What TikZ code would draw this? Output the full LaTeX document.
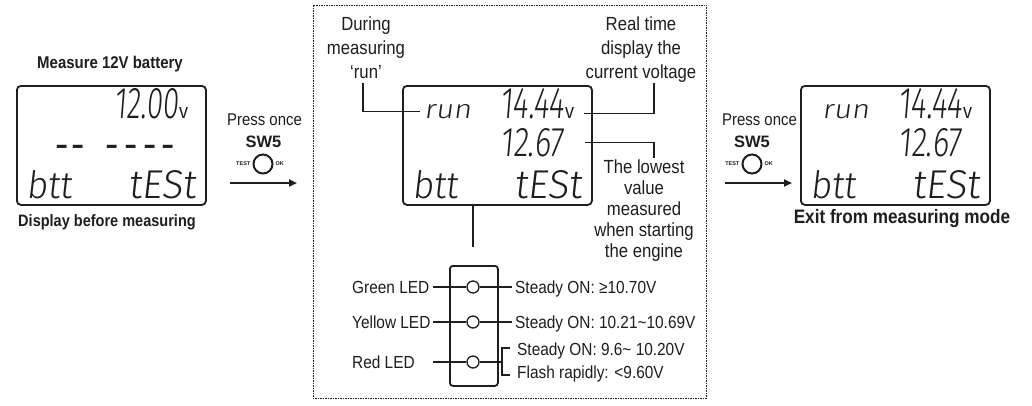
\documentclass[tikz,border=0pt]{standalone}
\usepackage{fontspec}
\usepackage{graphicx}
\setmainfont[FakeStretch=0.88]{Liberation Sans}
\newfontfamily\plainsans{Liberation Sans}
\newfontfamily\lcdf[FakeSlant=0.12]{Fira Sans Light}
\usetikzlibrary{arrows.meta}
\definecolor{ink}{HTML}{1E1E1E}
\newcommand\lcdtxt[3]{\resizebox{#1pt}{#2pt}{\lcdf #3}}
\newcommand\lcdv{\resizebox{9pt}{11pt}{\plainsans v}}
\begin{document}
\begin{tikzpicture}[x=1pt,y=-1pt,color=ink,
  lcdbox/.style={draw, line width=1.8pt, rounded corners=4pt, inner sep=0, minimum width=189pt, minimum height=119pt, anchor=north west},
  seg/.style={inner sep=0, anchor=south west},
  conn/.style={line width=1.3pt},
  ann/.style={font=\fontsize{19}{24}\selectfont, align=center, inner sep=0, anchor=north},
  ledl/.style={font=\fontsize{17.5}{20}\selectfont, inner sep=0, anchor=base west},
  led/.style={draw, circle, line width=1.3pt, minimum size=12pt, inner sep=0},
  btn/.style={draw, circle, line width=2pt, minimum size=19pt, inner sep=0},
  tinyl/.style={font=\plainsans\bfseries\fontsize{5.5}{6}\selectfont, inner sep=0},
  presslbl/.style={font=\fontsize{17}{20}\selectfont, inner sep=0, anchor=base},
  swlbl/.style={font=\plainsans\bfseries\fontsize{16.5}{20}\selectfont, inner sep=0, anchor=base},
  title/.style={font=\bfseries, inner sep=0, anchor=base},
  arr/.style={line width=2pt, -{Triangle[length=8pt,width=7pt]}},
  frame/.style={line width=1pt, dash pattern=on 1.5pt off 1pt}
]
\fill[white] (0,0) rectangle (1032,405);
\useasboundingbox (0,0) rectangle (1032,405);

% ---------- left panel ----------
\node[title, font=\bfseries\fontsize{17}{20}\selectfont] (tMeas) at (110,68) {Measure 12V battery};
\node[lcdbox] (lcdL) at (16,85) {};
\node[seg] (dL) at (114,119) {\lcdtxt{64}{30}{12.00}};
\node[seg] (vL) at (179,119) {\lcdv};
\node[anchor=base west, inner sep=0] (dashL) at (55.5,157) {\plainsans\fontsize{40}{40}\selectfont -\hspace{2.7pt}-\hspace{20.7pt}-\hspace{5.4pt}-\hspace{5.4pt}-\hspace{5.4pt}-};
\node[seg] (bL) at (26,199) {\lcdtxt{46}{28}{btt}};
\node[seg] (tL) at (128,199) {\lcdtxt{68}{28}{tESt}};
\node[title, font=\bfseries\fontsize{16.5}{20}\selectfont] (tDisp) at (107,226) {Display before measuring};

% ---------- first press ----------
\node[presslbl] (press1) at (264.5,125) {Press once};
\node[swlbl] (sw1) at (263.5,147) {SW5};
\node[btn] (btn1) at (263,164) {};
\node[tinyl, anchor=east] (test1) at ([xshift=-2pt]btn1.west) {TEST};
\node[tinyl, anchor=west] (ok1) at ([xshift=2pt]btn1.east) {OK};
\coordinate (a1s) at (230,183);
\coordinate (a1e) at (297,183);
\draw[arr] (a1s) -- (a1e);

% ---------- middle panel ----------
\draw[frame] (313,5) rectangle (706,398);
\node[ann] (annRun) at (366,16) {\rule{0pt}{14pt}During\\measuring\\‘run’};
\node[ann] (annRT) at (641,16) {\rule{0pt}{14pt}Real time\\display the\\current voltage};
\node[ann, font=\fontsize{19}{21}\selectfont] (annLow) at (644,159) {\rule{0pt}{14pt}The lowest\\value\\measured\\when starting\\the engine};

\node[lcdbox] (lcdM) at (402,85) {};
\node[seg] (runM) at (424,119) {\lcdtxt{47}{14}{run}};
\node[seg] (dM) at (500,119) {\lcdtxt{64}{30}{14.44}};
\node[seg] (vM) at (565,119) {\lcdv};
\node[seg] (lowM) at (500,157) {\lcdtxt{63}{28}{12.67}};
\node[seg] (bM) at (412,199) {\lcdtxt{46}{28}{btt}};
\node[seg] (tM) at (514,199) {\lcdtxt{68}{28}{tESt}};

\coordinate (runTop) at (363,83);
\draw[conn] (runTop) |- ([xshift=-4pt]runM.west);
\coordinate (rtTop) at (654,83);
\draw[conn] ([xshift=10pt]vM.east) -| (rtTop);
\coordinate (lwBot) at (654,158);
\draw[conn] ([xshift=22pt]lowM.east) -| (lwBot);

\node[draw, line width=1.8pt, rounded corners=3pt, minimum width=48pt, minimum height=120pt, anchor=north west, inner sep=0] (ledbox) at (449,265) {};
\coordinate (ledTop) at (473,247);
\draw[conn] (lcdM.south -| ledTop) -- (ledTop);

\node[led] (gled) at (473,287) {};
\node[led] (yled) at (473,322) {};
\node[led] (rled) at (473,362) {};
\coordinate (gL) at (433,287);
\coordinate (yL) at (433,322);
\coordinate (rL) at (433,362);
\coordinate (gR) at (512,287);
\coordinate (yR) at (512,322);
\coordinate (rR) at (502,362);
\coordinate (rbT) at (510,348);
\coordinate (rbB) at (510,375);
\draw[conn] (gL) -- (gled) (gled) -- (gR);
\draw[conn] (yL) -- (yled) (yled) -- (yR);
\draw[conn] (rL) -- (rled) (rled) -- (rR);
\draw[conn] (rbT) -| (rR) |- (rbB);

\node[ledl] (gtxt) at (352,293) {Green LED};
\node[ledl] (ytxt) at (352,328) {Yellow LED};
\node[ledl] (rtxt) at (352,368) {Red LED};
\node[ledl] (gst) at (515,293) {Steady ON: ≥10.70V};
\node[ledl] (yst) at (515,328) {Steady ON: 10.21\textasciitilde10.69V};
\node[ledl] (rst1) at (517,355) {Steady ON: 9.6\textasciitilde{} 10.20V};
\node[ledl] (rst2) at (517,378) {Flash rapidly: <9.60V};

% ---------- second press ----------
\node[presslbl] (press2) at (759.5,125) {Press once};
\node[swlbl] (sw2) at (752,147) {SW5};
\node[btn] (btn2) at (752,164) {};
\node[tinyl, anchor=east] (test2) at ([xshift=-2pt]btn2.west) {TEST};
\node[tinyl, anchor=west] (ok2) at ([xshift=2pt]btn2.east) {OK};
\coordinate (a2s) at (725,183);
\coordinate (a2e) at (792,183);
\draw[arr] (a2s) -- (a2e);

% ---------- right panel ----------
\node[lcdbox] (lcdR) at (800,85) {};
\node[seg] (runR) at (822,119) {\lcdtxt{47}{14}{run}};
\node[seg] (dR) at (898,119) {\lcdtxt{64}{30}{14.44}};
\node[seg] (vR) at (963,119) {\lcdv};
\node[seg] (lowR) at (898,157) {\lcdtxt{63}{28}{12.67}};
\node[seg] (bR) at (810,199) {\lcdtxt{46}{28}{btt}};
\node[seg] (tR) at (912,199) {\lcdtxt{68}{28}{tESt}};
\node[title, font=\bfseries\fontsize{19.5}{22}\selectfont] (tExit) at (902,223) {Exit from measuring mode};
\end{tikzpicture}
\end{document}
